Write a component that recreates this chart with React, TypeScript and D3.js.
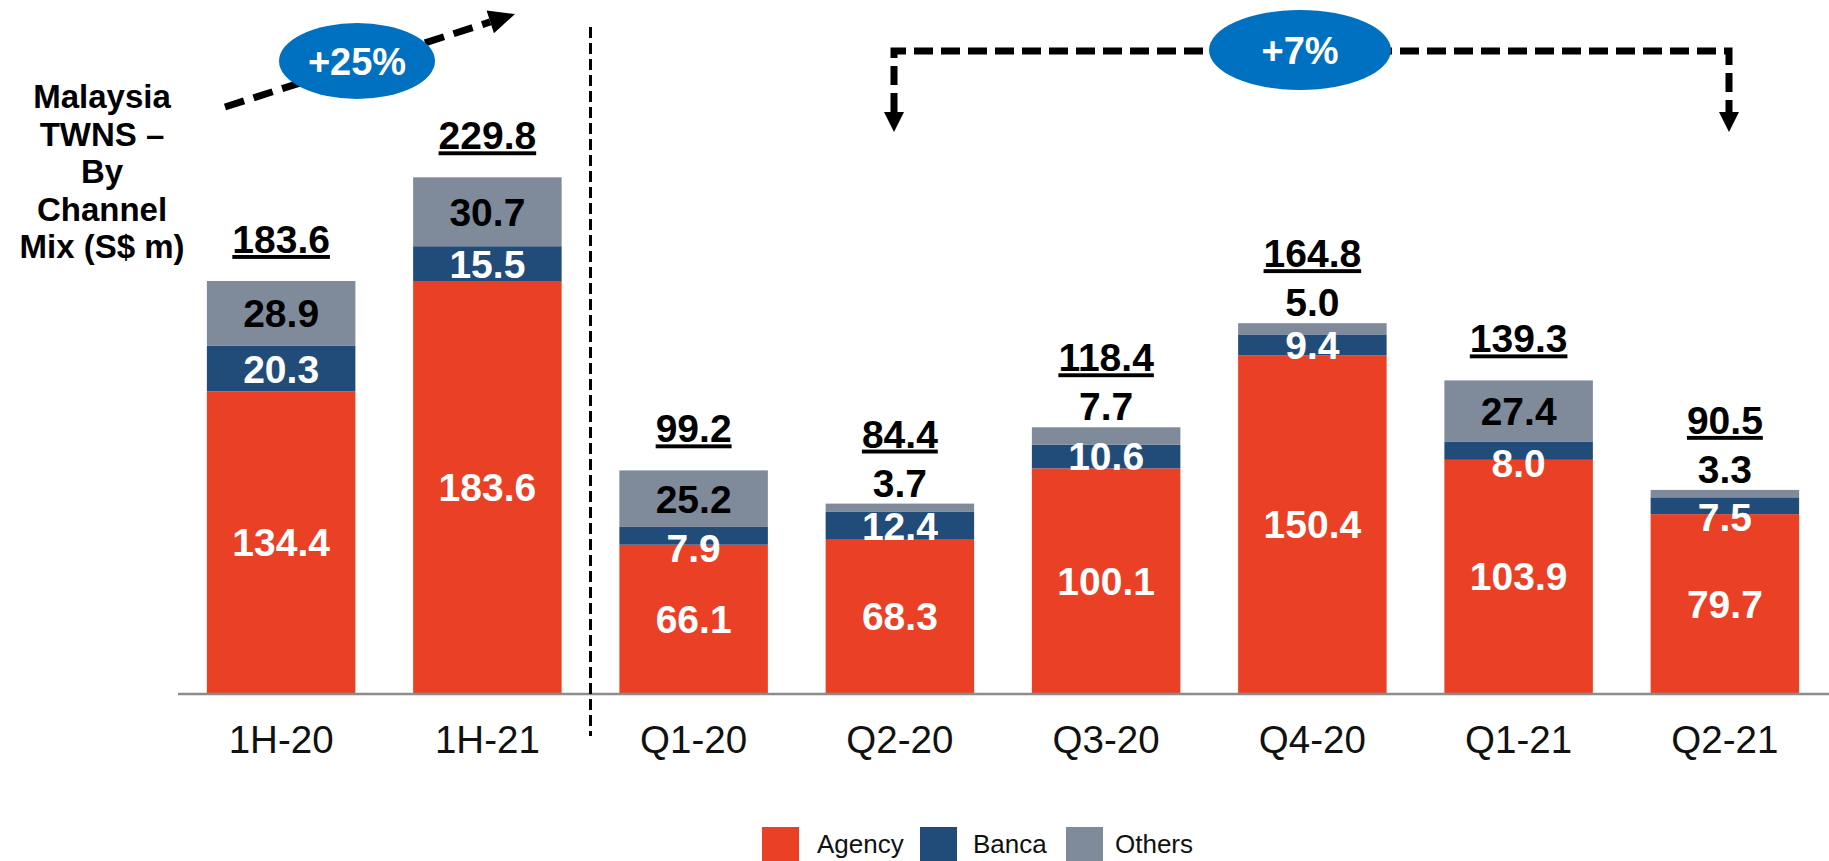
import React from "react";
import * as d3 from "d3";

const categories = ["1H-20", "1H-21", "Q1-20", "Q2-20", "Q3-20", "Q4-20", "Q1-21", "Q2-21"];
const agency = [134.4, 183.6, 66.1, 68.3, 100.1, 150.4, 103.9, 79.7];
const banca = [20.3, 15.5, 7.9, 12.4, 10.6, 9.4, 8.0, 7.5];
const others = [28.9, 30.7, 25.2, 3.7, 7.7, 5.0, 27.4, 3.3];
const totals = [183.6, 229.8, 99.2, 84.4, 118.4, 164.8, 139.3, 90.5];
const seriesKeys = ["Agency", "Banca", "Others"];
const titleLines = ["Malaysia", "TWNS \u2013", "By", "Channel", "Mix (S$ m)"];
const growthLeft = "+25%";
const growthRight = "+7%";

const W = 1829;
const H = 861;
const FONT = "'Liberation Sans', Arial, Helvetica, sans-serif";
const COLORS: Record<string, string> = {
  Agency: "#EA4025",
  Banca: "#214C7A",
  Others: "#7F8A9B",
};
const BUBBLE = "#0070C0";

export default function App() {
  const baseY = 693;
  const pxPerUnit = 2.244;
  const x = d3
    .scaleBand<string>()
    .domain(categories)
    .range([178, 1828])
    .paddingInner(0.28)
    .paddingOuter(0.14);
  const y = d3.scaleLinear().domain([0, 300]).range([baseY, baseY - pxPerUnit * 300]);
  const bw = x.bandwidth();

  const rows = categories.map((c, i) => ({
    cat: c,
    Agency: agency[i],
    Banca: banca[i],
    Others: others[i],
  }));
  const stack = d3.stack<any>().keys(seriesKeys);
  const series = stack(rows);

  const fs = 39;
  const capHalf = fs * 0.358;

  const segLabels: React.ReactNode[] = [];
  const totalLabels: React.ReactNode[] = [];

  categories.forEach((c, i) => {
    const cx = (x(c) as number) + bw / 2;
    const aTop = y(agency[i]);
    const bTop = y(agency[i] + banca[i]);
    const top = y(totals[i]);
    const aCenter = (aTop + baseY) / 2;
    segLabels.push(
      <text key={"a" + i} x={cx} y={aCenter + capHalf} textAnchor="middle" fill="#fff"
        fontSize={fs} fontWeight="bold" fontFamily={FONT}>
        {agency[i].toFixed(1)}
      </text>
    );
    const bh = aTop - bTop;
    const bCenter = bh < 20 ? aTop + 3 : (aTop + bTop) / 2;
    segLabels.push(
      <text key={"b" + i} x={cx} y={bCenter + capHalf} textAnchor="middle" fill="#fff"
        fontSize={fs} fontWeight="bold" fontFamily={FONT}>
        {banca[i].toFixed(1)}
      </text>
    );
    const inside = others[i] > 10;
    let totalBase: number;
    if (inside) {
      const oCenter = (bTop + top) / 2;
      segLabels.push(
        <text key={"o" + i} x={cx} y={oCenter + capHalf} textAnchor="middle" fill="#000"
          fontSize={fs} fontWeight="bold" fontFamily={FONT}>
          {others[i].toFixed(1)}
        </text>
      );
      totalBase = top - 28;
    } else {
      const ob = top - 7;
      segLabels.push(
        <text key={"o" + i} x={cx} y={ob} textAnchor="middle" fill="#000"
          fontSize={fs} fontWeight="bold" fontFamily={FONT}>
          {others[i].toFixed(1)}
        </text>
      );
      totalBase = ob - 49;
    }
    totalLabels.push(
      <text key={"t" + i} x={cx} y={totalBase} textAnchor="middle" fill="#000"
        fontSize={fs} fontWeight="bold" fontFamily={FONT}
        style={{ textDecoration: "underline" }}>
        {totals[i].toFixed(1)}
      </text>
    );
  });

  const sepX = ((x("1H-21") as number) + bw + (x("Q1-20") as number)) / 2;

  const a0 = [225, 107];
  const a1 = [515, 14];
  const ang = Math.atan2(a1[1] - a0[1], a1[0] - a0[0]);
  const headL = 26;
  const headW = 12;
  const aBase = [a1[0] - headL * Math.cos(ang), a1[1] - headL * Math.sin(ang)];
  const perp = [-Math.sin(ang), Math.cos(ang)];
  const head = [
    a1,
    [aBase[0] + perp[0] * headW, aBase[1] + perp[1] * headW],
    [aBase[0] - perp[0] * headW, aBase[1] - perp[1] * headW],
  ];

  const bxL = 894;
  const bxR = 1729;
  const bY = 51;
  const bTip = 132;
  const bHead = 20;

  const legendItems = [
    { key: "Agency", sx: 762, tx: 817 },
    { key: "Banca", sx: 920, tx: 973 },
    { key: "Others", sx: 1066, tx: 1115 },
  ];

  return (
    <svg width={W} height={H} style={{ position: "absolute", left: 0, top: 0, background: "#fff" }}>
      {series.map((s) => (
        <g key={s.key} fill={COLORS[s.key]}>
          {s.map((d, i) => (
            <rect key={i} x={x(categories[i])} y={y(d[1])} width={bw} height={y(d[0]) - y(d[1])} />
          ))}
        </g>
      ))}
      <line x1={178} x2={W} y1={baseY + 1} y2={baseY + 1} stroke="#8c8c8c" strokeWidth={2.5} />
      <line x1={sepX} x2={sepX} y1={27} y2={736} stroke="#000" strokeWidth={3} strokeDasharray="11 5" />
      {segLabels}
      {totalLabels}
      {categories.map((c) => (
        <text key={c} x={(x(c) as number) + bw / 2} y={753} textAnchor="middle" fill="#111"
          fontSize={38.5} fontFamily={FONT}>
          {c}
        </text>
      ))}
      {titleLines.map((t, i) => (
        <text key={t} x={102} y={108 + i * 37.5} textAnchor="middle" fill="#000" fontSize={33}
          fontWeight="bold" fontFamily={FONT}>
          {t}
        </text>
      ))}
      <line x1={a0[0]} y1={a0[1]} x2={aBase[0]} y2={aBase[1]} stroke="#000" strokeWidth={7}
        strokeDasharray="20 10" />
      <polygon points={head.map((p) => p.join(",")).join(" ")} fill="#000" />
      <ellipse cx={357} cy={61} rx={78} ry={38} fill={BUBBLE} />
      <text x={357} y={61 + 13.5} textAnchor="middle" fill="#fff" fontSize={38} fontWeight="bold"
        fontFamily={FONT}>
        {growthLeft}
      </text>
      <path d={`M${bxL},${bTip - bHead} L${bxL},${bY} L${bxR},${bY} L${bxR},${bTip - bHead}`}
        fill="none" stroke="#000" strokeWidth={7} strokeDasharray="19 8" />
      <polygon points={`${bxL - 10},${bTip - bHead} ${bxL + 10},${bTip - bHead} ${bxL},${bTip}`} fill="#000" />
      <polygon points={`${bxR - 10},${bTip - bHead} ${bxR + 10},${bTip - bHead} ${bxR},${bTip}`} fill="#000" />
      <ellipse cx={1300} cy={50} rx={91} ry={40} fill={BUBBLE} />
      <text x={1300} y={50 + 13.5} textAnchor="middle" fill="#fff" fontSize={38} fontWeight="bold"
        fontFamily={FONT}>
        {growthRight}
      </text>
      {legendItems.map((l) => (
        <g key={l.key}>
          <rect x={l.sx} y={827} width={37} height={37} fill={COLORS[l.key]} />
          <text x={l.tx} y={853} fill="#111" fontSize={26} fontFamily={FONT}>
            {l.key}
          </text>
        </g>
      ))}
    </svg>
  );
}
